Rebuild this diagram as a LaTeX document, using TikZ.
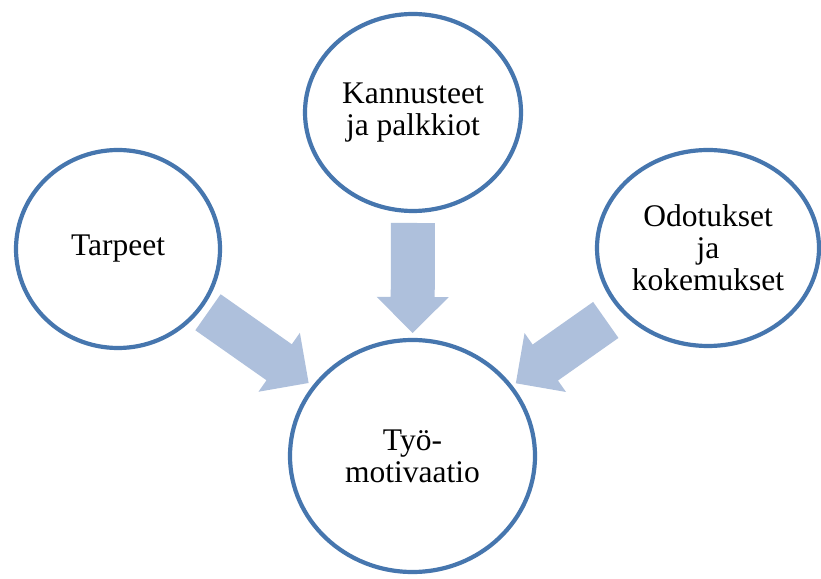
\documentclass[tikz,border=0pt]{standalone}
\usepackage{fontspec}
\setmainfont{Liberation Serif}
\usetikzlibrary{shapes.geometric,calc}

\definecolor{ringblue}{RGB}{70,118,174}
\definecolor{arrowblue}{RGB}{174,192,220}

\tikzset{
  bubble/.style={ellipse, draw=ringblue, line width=4.2pt, fill=white,
    inner sep=0pt, align=center, font=\fontsize{31.5}{32}\selectfont},
  blockfill/.style={fill=arrowblue}
}

% Wide block arrow along the line between two node centres.
% #1 name prefix, #2 source node, #3 target node,
% #4 distance of the tail from the source centre, #5 distance of the tip
\newcommand\blockarrow[5]{%
  \coordinate (#1-tail) at ($(#2.center)!#4!(#3.center)$);
  \coordinate (#1-tip)  at ($(#2.center)!#5!(#3.center)$);
  \coordinate (#1-neck) at ($(#1-tip)!36pt!(#1-tail)$);
  \fill[blockfill]
    ($(#1-tail)!22pt!90:(#1-tip)$) -- ($(#1-neck)!22pt!90:(#1-tip)$) --
    ($(#1-neck)!36pt!90:(#1-tip)$) -- (#1-tip) --
    ($(#1-neck)!36pt!-90:(#1-tip)$) -- ($(#1-neck)!22pt!-90:(#1-tip)$) --
    ($(#1-tail)!22pt!-90:(#1-tip)$) -- cycle;}

\begin{document}
\begin{tikzpicture}[x=1pt,y=1pt]
  \fill[white] (0,0) rectangle (821,578);
  \useasboundingbox (0,0) rectangle (821,578);

  % the four themes
  \node[bubble, minimum width=204pt, minimum height=198pt] (tar) at (118,329) {Tarpeet};
  \node[bubble, minimum width=216pt, minimum height=197pt] (kan) at (413,465.5) {Kannusteet\\ja palkkiot};
  \node[bubble, minimum width=222pt, minimum height=196pt] (odo) at (708,330) {Odotukset\\ja\\kokemukset};
  \node[bubble, minimum width=245pt, minimum height=232pt] (tyo) at (412.5,122) {Työ-\\motivaatio};

  % influences pointing to work motivation
  \blockarrow{a1}{tar}{tyo}{110pt}{233pt}
  \blockarrow{a2}{kan}{tyo}{110.5pt}{220.5pt}
  \blockarrow{a3}{odo}{tyo}{125pt}{235pt}
\end{tikzpicture}
\end{document}
